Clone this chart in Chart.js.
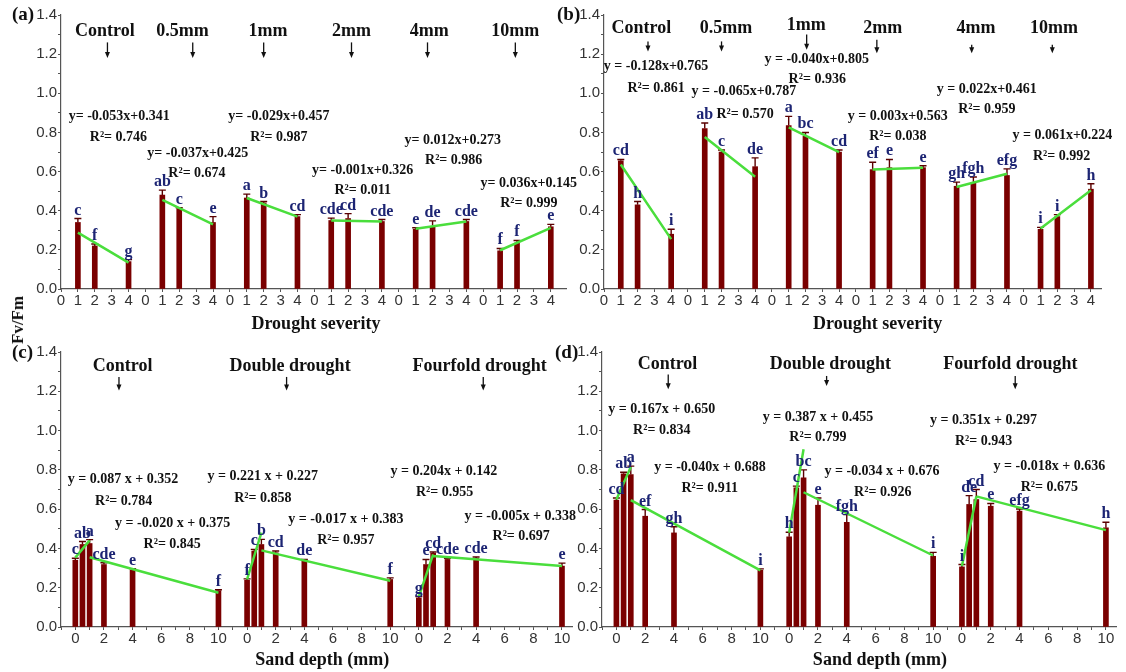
<!DOCTYPE html>
<html><head><meta charset="utf-8">
<script src="https://cdn.jsdelivr.net/npm/chart.js@4.4.1/dist/chart.umd.min.js"></script>
<style>
html,body{margin:0;padding:0;background:#fff;}
#wrap{position:relative;width:1126px;height:672px;overflow:hidden;background:#fff;}
#wrap canvas{position:absolute;}
#ytitle{position:absolute;left:18px;top:320px;transform:translate(-50%,-50%) rotate(-90deg);font:bold 17px "Liberation Serif","Times New Roman",serif;color:#111;white-space:nowrap;}
</style></head><body>
<div id="wrap">
<canvas id="ca" width="600" height="336" style="left:0px;top:0px"></canvas>
<canvas id="cb" width="571" height="336" style="left:555px;top:0px"></canvas>
<canvas id="cc" width="600" height="336" style="left:0px;top:336px"></canvas>
<canvas id="cd" width="571" height="336" style="left:555px;top:336px"></canvas>
<div id="ytitle">Fv/Fm</div>
</div>
<script>
// ---------------- DATA ----------------
const groupsAB = ['Control', '0.5mm', '1mm', '2mm', '4mm', '10mm'];
const severityLevels = [1, 2, 4];
const tickLabelsAB = [0, 1, 2, 3, 4];
const groupsCD = ['Control', 'Double drought', 'Fourfold drought'];
const sandDepths = [0, 0.5, 1, 2, 4, 10];
const tickLabelsCD = [0, 2, 4, 6, 8, 10];
const yTickLabels = ['0.0', '0.2', '0.4', '0.6', '0.8', '1.0', '1.2', '1.4'];

// panel (a)
const aMeans = [0.34, 0.22, 0.14, 0.48, 0.41, 0.34, 0.465, 0.44, 0.37, 0.35, 0.36, 0.345, 0.305, 0.32, 0.345, 0.195, 0.235, 0.318];
const aErrTop = [0.36, 0.23, 0.15, 0.505, 0.415, 0.37, 0.485, 0.447, 0.38, 0.362, 0.385, 0.355, 0.313, 0.348, 0.355, 0.207, 0.248, 0.33];
const aLetters = ['c', 'f', 'g', 'ab', 'c', 'e', 'a', 'b', 'cd', 'cde', 'cd', 'cde', 'e', 'de', 'cde', 'f', 'f', 'e'];
const aFitStart = [0.288, 0.455, 0.465, 0.35, 0.308, 0.198];
const aFitEnd = [0.135, 0.33, 0.37, 0.345, 0.345, 0.312];
const aEquations = ['y= -0.053x+0.341', 'R\u00b2= 0.746', 'y= -0.037x+0.425', 'R\u00b2= 0.674', 'y= -0.029x+0.457', 'R\u00b2= 0.987',
  'y= -0.001x+0.326', 'R\u00b2= 0.011', 'y= 0.012x+0.273', 'R\u00b2= 0.986', 'y= 0.036x+0.145', 'R\u00b2= 0.999'];

// panel (b)
const bMeans = [0.655, 0.43, 0.28, 0.82, 0.70, 0.625, 0.835, 0.78, 0.70, 0.61, 0.62, 0.62, 0.525, 0.545, 0.58, 0.305, 0.37, 0.51];
const bErrTop = [0.662, 0.447, 0.305, 0.848, 0.71, 0.67, 0.882, 0.80, 0.71, 0.648, 0.662, 0.63, 0.546, 0.572, 0.614, 0.315, 0.38, 0.538];
const bLetters = ['cd', 'h', 'i', 'ab', 'c', 'de', 'a', 'bc', 'cd', 'ef', 'e', 'e', 'gh', 'fgh', 'efg', 'i', 'i', 'h'];
const bFitStart = [0.636, 0.777, 0.826, 0.611, 0.521, 0.309];
const bFitEnd = [0.255, 0.574, 0.699, 0.619, 0.589, 0.504];
const bEquations = ['y = -0.128x+0.765', 'R\u00b2= 0.861', 'y = -0.065x+0.787', 'R\u00b2= 0.570', 'y = -0.040x+0.805', 'R\u00b2= 0.936',
  'y = 0.003x+0.563', 'R\u00b2= 0.038', 'y = 0.022x+0.461', 'R\u00b2= 0.959', 'y = 0.061x+0.224', 'R\u00b2= 0.992'];

// panel (c)
const cMeans = [0.34, 0.42, 0.425, 0.318, 0.29, 0.185, 0.238, 0.387, 0.42, 0.378, 0.336, 0.242, 0.148, 0.318, 0.375, 0.344, 0.349, 0.31];
const cErrTop = [0.35, 0.435, 0.445, 0.327, 0.297, 0.19, 0.245, 0.395, 0.446, 0.387, 0.344, 0.25, 0.155, 0.344, 0.382, 0.35, 0.356, 0.325];
const cLetters = ['c', 'ab', 'a', 'cde', 'e', 'f', 'f', 'c', 'b', 'cd', 'de', 'f', 'g', 'e', 'cd', 'cde', 'cde', 'e'];
const cRiseStart = [0.353, 0.242, 0.155];
const cRiseEnd = [0.441, 0.48, 0.37];
const cFallStart = [0.355, 0.39, 0.361];
const cFallEnd = [0.174, 0.235, 0.31];
const cEquations = ['y = 0.087 x + 0.352', 'R\u00b2= 0.784', 'y = -0.020 x + 0.375', 'R\u00b2= 0.845', 'y = 0.221 x + 0.227', 'R\u00b2= 0.858',
  'y = -0.017 x + 0.383', 'R\u00b2= 0.957', 'y = 0.204x + 0.142', 'R\u00b2= 0.955', 'y = -0.005x + 0.338', 'R\u00b2= 0.697'];

// panel (d)
const dMeans = [0.646, 0.78, 0.776, 0.564, 0.479, 0.289, 0.459, 0.708, 0.759, 0.62, 0.533, 0.36, 0.306, 0.624, 0.649, 0.615, 0.59, 0.505];
const dErrTop = [0.657, 0.788, 0.819, 0.598, 0.51, 0.296, 0.482, 0.717, 0.8, 0.657, 0.572, 0.38, 0.318, 0.669, 0.7, 0.629, 0.601, 0.533];
const dLetters = ['cd', 'ab', 'a', 'ef', 'gh', 'i', 'h', 'c', 'bc', 'e', 'fgh', 'i', 'i', 'de', 'cd', 'e', 'efg', 'h'];
const dRiseStart = [0.649, 0.48, 0.31];
const dRiseEnd = [0.814, 0.905, 0.665];
const dFallStart = [0.646, 0.686, 0.665];
const dFallEnd = [0.288, 0.364, 0.493];
const dEquations = ['y = 0.167x + 0.650', 'R\u00b2= 0.834', 'y = -0.040x + 0.688', 'R\u00b2= 0.911', 'y = 0.387 x + 0.455', 'R\u00b2= 0.799',
  'y = -0.034 x + 0.676', 'R\u00b2= 0.926', 'y = 0.351x + 0.297', 'R\u00b2= 0.943', 'y = -0.018x + 0.636', 'R\u00b2= 0.675'];

// ---------------- LAYOUT (positions of annotations, in axis units) ----------------
const aEqPos = [[3.45,0.88],[3.4,0.776],[8.1,0.691],[8.05,0.589],[12.9,0.883],[12.9,0.776],[17.86,0.608],[17.86,0.504],[23.2,0.761],[23.25,0.657],[27.7,0.541],[27.7,0.437]];
const bEqPos = [[3.1,1.137],[3.1,1.027],[8.33,1.01],[8.4,0.891],[12.67,1.171],[12.7,1.07],[17.5,0.883],[17.5,0.781],[22.8,1.019],[22.8,0.917],[27.3,0.784],[27.25,0.679]];
const cEqPos = [[3.33,0.75],[3.38,0.642],[6.8,0.528],[6.77,0.421],[13.1,0.765],[13.1,0.656],[18.9,0.549],[18.9,0.441],[25.75,0.79],[25.8,0.684],[31.08,0.561],[31.15,0.459]];
const dEqPos = [[3.15,1.108],[3.15,1.002],[6.5,0.815],[6.48,0.708],[14.0,1.065],[14.0,0.963],[18.45,0.79],[18.5,0.683],[25.5,1.053],[25.5,0.946],[30.07,0.819],[30.07,0.712]];
// heading: [textX, arrowX, textY, arrowTop, arrowBottom]
const aHeadPos = [[2.6,2.75,1.316,1.26,1.18],[7.2,7.8,1.316,1.26,1.18],[12.25,12.0,1.316,1.26,1.18],[17.2,17.2,1.316,1.26,1.18],[21.8,21.7,1.316,1.26,1.18],[26.9,26.9,1.316,1.26,1.18]];
const bHeadPos = [[2.23,2.62,1.333,1.265,1.214],[7.26,7.0,1.333,1.265,1.214],[12.05,12.07,1.345,1.30,1.222],[16.6,16.25,1.333,1.273,1.205],[22.15,21.9,1.333,1.248,1.205],[26.8,26.7,1.333,1.248,1.205]];
const cHeadPos = [[3.3,3.05,1.329,1.273,1.204],[15.0,14.76,1.329,1.273,1.204],[28.25,28.5,1.329,1.273,1.204]];
const dHeadPos = [[3.55,3.6,1.337,1.286,1.21],[14.86,14.6,1.337,1.278,1.227],[27.36,27.7,1.337,1.278,1.21]];

// ---------------- BUILD ----------------
const SERIF = '"Liberation Serif", "Times New Roman", serif';
const SANS = '"Liberation Sans", Arial, sans-serif';
const BAR = '#7a0000', ERR = '#5a0000', GREEN = '#4ade3c', NAVY = '#1c2473', AXIS = '#555';

function barsAB(means, errs, letters) {
  const out = [];
  groupsAB.forEach((g, gi) => severityLevels.forEach((lv, li) => {
    const i = gi * severityLevels.length + li;
    out.push({ x: gi * 5 + lv, y: means[i], err: errs[i], letter: letters[i] });
  }));
  return out;
}
function barsCD(means, errs, letters) {
  const out = [];
  groupsCD.forEach((g, gi) => sandDepths.forEach((d, di) => {
    const i = gi * sandDepths.length + di;
    out.push({ x: gi * 12 + d, y: means[i], err: errs[i], letter: letters[i] });
  }));
  return out;
}
function fitAB(s, e) {
  const pts = [];
  groupsAB.forEach((g, gi) => {
    pts.push({ x: gi * 5 + severityLevels[0], y: s[gi] });
    pts.push({ x: gi * 5 + severityLevels[severityLevels.length - 1], y: e[gi] });
    pts.push({ x: gi * 5 + 4.5, y: null });
  });
  return pts;
}
function fitCD(rs, re, fs, fe) {
  const pts = [];
  groupsCD.forEach((g, gi) => {
    const o = gi * 12;
    pts.push({ x: o + sandDepths[0], y: rs[gi] });
    pts.push({ x: o + sandDepths[2], y: re[gi] });
    pts.push({ x: o + sandDepths[2], y: null });
    pts.push({ x: o + sandDepths[2], y: fs[gi] });
    pts.push({ x: o + sandDepths[5], y: fe[gi] });
    pts.push({ x: o + 11, y: null });
  });
  return pts;
}
function tickAB(v) {
  const r = Math.round(v);
  if (Math.abs(v - r) > 1e-6 || r < 0) return '';
  return String(tickLabelsAB[r % 5]);
}
function tickCD(v) {
  const r = Math.round(v);
  if (Math.abs(v - r) > 1e-6 || r < 0) return '';
  const d = r % 12;
  if (d > 10 || d % 2) return '';
  return String(tickLabelsCD[d / 2]);
}

function decor(p) {
  return {
    id: 'decor',
    beforeDatasetsDraw(chart) {
      const { ctx, scales: { x, y } } = chart;
      ctx.save();
      ctx.strokeStyle = ERR; ctx.lineWidth = 1.4;
      p.bars.forEach(b => {
        const px = x.getPixelForValue(b.x), p0 = y.getPixelForValue(b.y), p1 = y.getPixelForValue(b.err);
        ctx.beginPath();
        ctx.moveTo(px, p0); ctx.lineTo(px, p1);
        ctx.moveTo(px - 3.5, p1); ctx.lineTo(px + 3.5, p1);
        ctx.stroke();
      });
      ctx.restore();
    },
    afterDraw(chart) {
      const { ctx, scales: { x, y } } = chart;
      ctx.save();
      // significance letters
      ctx.fillStyle = NAVY; ctx.font = 'bold 16px ' + SERIF;
      ctx.textAlign = 'center'; ctx.textBaseline = 'alphabetic';
      p.bars.forEach(b => {
        ctx.fillText(b.letter, x.getPixelForValue(b.x), y.getPixelForValue(b.err) - 4);
      });
      // headings with arrows
      ctx.fillStyle = '#111'; ctx.strokeStyle = '#111';
      ctx.font = 'bold 18px ' + SERIF; ctx.textBaseline = 'middle';
      p.groups.forEach((g, i) => {
        const h = p.headPos[i];
        ctx.fillText(g, x.getPixelForValue(h[0]), y.getPixelForValue(h[2]));
        const ax = x.getPixelForValue(h[1]), a1 = y.getPixelForValue(h[3]), a2 = y.getPixelForValue(h[4]);
        ctx.lineWidth = 1.3;
        ctx.beginPath(); ctx.moveTo(ax, a1); ctx.lineTo(ax, a2 - 4); ctx.stroke();
        ctx.beginPath(); ctx.moveTo(ax - 2.5, a2 - 6); ctx.lineTo(ax + 2.5, a2 - 6); ctx.lineTo(ax, a2); ctx.closePath(); ctx.fill();
      });
      // equations
      ctx.font = 'bold 14px ' + SERIF;
      p.equations.forEach((t, i) => {
        ctx.fillText(t, x.getPixelForValue(p.eqPos[i][0]), y.getPixelForValue(p.eqPos[i][1]));
      });
      // panel label
      ctx.font = 'bold 19px ' + SERIF; ctx.textAlign = 'left';
      ctx.fillText(p.label, p.labelPx[0], p.labelPx[1]);
      // x title
      ctx.font = 'bold 18px ' + SERIF; ctx.textAlign = 'center';
      ctx.fillText(p.xTitle, x.getPixelForValue(p.xTitlePos[0]), p.xTitlePos[1]);
      ctx.restore();
    }
  };
}

function build(p) {
  new Chart(document.getElementById(p.id), {
    type: 'bar',
    data: {
      datasets: [
        { type: 'line', data: p.fit, borderColor: GREEN, borderWidth: 2.5, pointRadius: 0, spanGaps: false, order: 0, tension: 0 },
        { type: 'bar', data: p.bars.map(b => ({ x: b.x, y: b.y })), backgroundColor: BAR, barThickness: 5, order: 1 }
      ]
    },
    options: {
      responsive: false, animation: false,
      layout: { padding: { left: 0, top: p.top, right: p.right, bottom: 0 } },
      plugins: { legend: { display: false }, tooltip: { enabled: false } },
      scales: {
        x: {
          type: 'linear', min: p.xMin, max: p.xMax, offset: false,
          afterFit: s => { s.height = p.hx; },
          border: { color: AXIS, width: 1.2 },
          grid: { drawOnChartArea: false, drawTicks: true, tickLength: 3, tickColor: AXIS, offset: false },
          ticks: { stepSize: 1, autoSkip: false, maxRotation: 0, includeBounds: false, padding: 0,
                   callback: p.tick, color: '#333', font: { family: SANS, size: 15 } }
        },
        y: {
          min: 0, max: 1.4,
          afterFit: s => { s.width = p.wy; },
          border: { color: AXIS, width: 1.2 },
          grid: { drawOnChartArea: false, drawTicks: true, tickLength: 3, tickColor: AXIS },
          ticks: { stepSize: 0.1, autoSkip: false, padding: 1, color: '#333', font: { family: SANS, size: 15 },
                   callback: v => { const k = Math.round(v * 10); return k % 2 === 0 ? yTickLabels[k / 2] : ''; } }
        }
      }
    },
    plugins: [decor(p)]
  });
}

build({ id: 'ca', bars: barsAB(aMeans, aErrTop, aLetters), fit: fitAB(aFitStart, aFitEnd), groups: groupsAB,
  headPos: aHeadPos, equations: aEquations, eqPos: aEqPos, xMin: 0, xMax: 29.9, tick: tickAB,
  wy: 61, top: 15, right: 34, hx: 47, label: '(a)', labelPx: [12, 15], xTitle: 'Drought severity', xTitlePos: [15.1, 324] });
build({ id: 'cb', bars: barsAB(bMeans, bErrTop, bLetters), fit: fitAB(bFitStart, bFitEnd), groups: groupsAB,
  headPos: bHeadPos, equations: bEquations, eqPos: bEqPos, xMin: 0, xMax: 29.6, tick: tickAB,
  wy: 49, top: 15, right: 25, hx: 47, label: '(b)', labelPx: [2, 15], xTitle: 'Drought severity', xTitlePos: [16.3, 324] });
build({ id: 'cc', bars: barsCD(cMeans, cErrTop, cLetters), fit: fitCD(cRiseStart, cRiseEnd, cFallStart, cFallEnd), groups: groupsCD,
  headPos: cHeadPos, equations: cEquations, eqPos: cEqPos, xMin: -1, xMax: 34.7, tick: tickCD,
  wy: 61, top: 16, right: 28, hx: 45, label: '(c)', labelPx: [12, 17], xTitle: 'Sand depth (mm)', xTitlePos: [17.25, 324] });
build({ id: 'cd', bars: barsCD(dMeans, dErrTop, dLetters), fit: fitCD(dRiseStart, dRiseEnd, dFallStart, dFallEnd), groups: groupsCD,
  headPos: dHeadPos, equations: dEquations, eqPos: dEqPos, xMin: -1, xMax: 34.7, tick: tickCD,
  wy: 47, top: 16, right: 10, hx: 45, label: '(d)', labelPx: [0, 17], xTitle: 'Sand depth (mm)', xTitlePos: [18.3, 324] });
</script>
</body></html>
